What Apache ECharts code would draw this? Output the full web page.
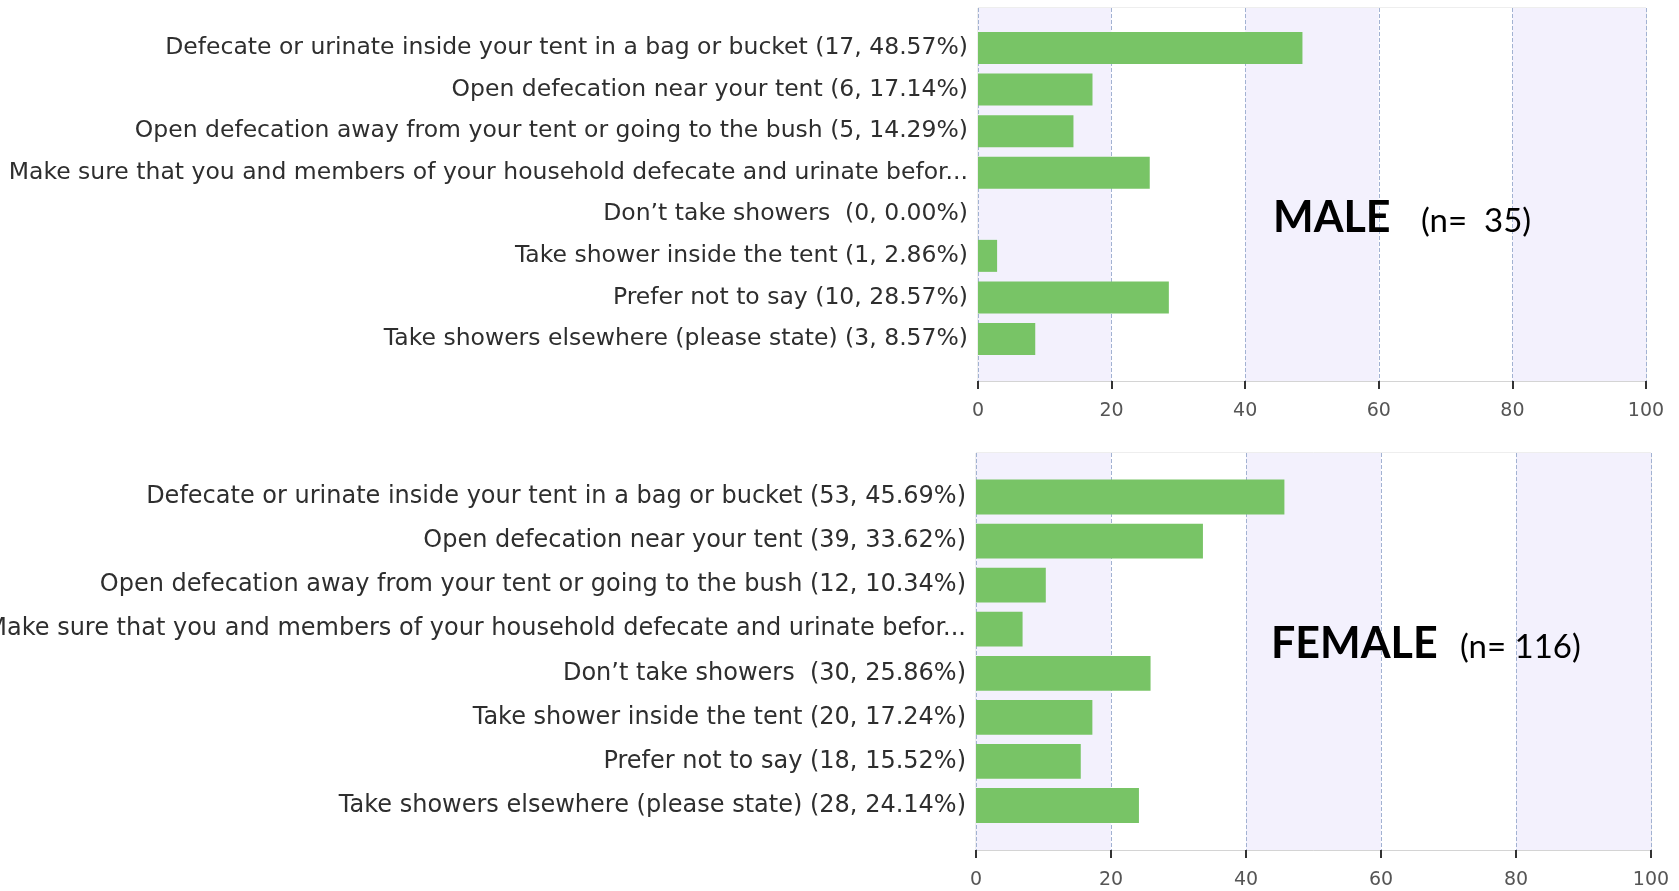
<!DOCTYPE html>
<html><head><meta charset="utf-8">
<script src="https://cdn.jsdelivr.net/npm/echarts@6/dist/echarts.min.js"></script>
<style>html,body{margin:0;padding:0;background:#fff}#c{width:1679px;height:891px}</style>
</head><body><div id="c"></div>
<script>
const maleLabels = [
  'Defecate or urinate inside your tent in a bag or bucket (17, 48.57%)',
  'Open defecation near your tent (6, 17.14%)',
  'Open defecation away from your tent or going to the bush (5, 14.29%)',
  'Make sure that you and members of your household defecate and urinate befor...',
  'Don\u2019t take showers  (0, 0.00%)',
  'Take shower inside the tent (1, 2.86%)',
  'Prefer not to say (10, 28.57%)',
  'Take showers elsewhere (please state) (3, 8.57%)'
];
const maleValues = [48.57, 17.14, 14.29, 25.71, 0, 2.86, 28.57, 8.57];

const femaleLabels = [
  'Defecate or urinate inside your tent in a bag or bucket (53, 45.69%)',
  'Open defecation near your tent (39, 33.62%)',
  'Open defecation away from your tent or going to the bush (12, 10.34%)',
  'Make sure that you and members of your household defecate and urinate befor...',
  'Don\u2019t take showers  (30, 25.86%)',
  'Take shower inside the tent (20, 17.24%)',
  'Prefer not to say (18, 15.52%)',
  'Take showers elsewhere (please state) (28, 24.14%)'
];
const femaleValues = [45.69, 33.62, 10.34, 6.90, 25.86, 17.24, 15.52, 24.14];

const xTickLabels = ['0', '20', '40', '60', '80', '100'];

const maleTitle = 'MALE';
const maleN = '(n=  35)';
const femaleTitle = 'FEMALE';
const femaleN = '(n= 116)';

const FONT = '"DejaVu Sans", Verdana, sans-serif';
const TITLE_FONT = 'Lato, "Open Sans", sans-serif';
const gridLineColor = '#a2b2d2';

function bgXAxis(gi) {
  return {
    gridIndex: gi, type: 'value', min: 0, max: 100, interval: 20,
    splitArea: { show: true, areaStyle: { color: ['#f3f1fd', '#ffffff'] } },
    splitLine: { show: true, lineStyle: { type: 'dashed', color: gridLineColor, width: 1 } },
    axisLine: { show: true, lineStyle: { color: '#d4d4d4', width: 1 } },
    axisTick: { show: true, length: 8, lineStyle: { color: '#333', width: 2 } },
    axisLabel: { fontSize: 19, color: '#555', margin: 21, fontFamily: FONT,
      formatter: (v) => xTickLabels[Math.round(v / 20)] }
  };
}
function hiddenXAxis(gi) {
  return { gridIndex: gi, type: 'value', min: 0, max: 100, show: false };
}
function catYAxis(gi, labels, fs) {
  return {
    gridIndex: gi, type: 'category', data: labels, inverse: true, boundaryGap: false,
    axisLine: { show: false }, axisTick: { show: false },
    axisLabel: { fontSize: fs, color: '#2e2e2e', margin: 10, fontFamily: FONT },
    splitLine: { show: true, lineStyle: { type: 'dashed', color: gridLineColor, width: 1 } }
  };
}

const chart = echarts.init(document.getElementById('c'));
chart.setOption({
  animation: false,
  grid: [
    { left: 978, right: 33, top: 8, bottom: 510, show: true, borderColor: '#dcdcdc', borderWidth: 1, outerBoundsMode: 'none', containLabel: false },
    { left: 978, right: 33, top: 48, bottom: 552, outerBoundsMode: 'none', containLabel: false },
    { left: 976, right: 28, top: 453, bottom: 41, show: true, borderColor: '#dcdcdc', borderWidth: 1, outerBoundsMode: 'none', containLabel: false },
    { left: 976, right: 28, top: 497, bottom: 85.5, outerBoundsMode: 'none', containLabel: false }
  ],
  xAxis: [bgXAxis(0), hiddenXAxis(1), bgXAxis(2), hiddenXAxis(3)],
  yAxis: [
    { gridIndex: 0, type: 'value', show: false },
    catYAxis(1, maleLabels, 23.5),
    { gridIndex: 2, type: 'value', show: false },
    catYAxis(3, femaleLabels, 24.0)
  ],
  series: [
    { type: 'bar', xAxisIndex: 1, yAxisIndex: 1, data: maleValues, barWidth: '77%', clip: false,
      itemStyle: { color: '#78c466' } },
    { type: 'bar', xAxisIndex: 3, yAxisIndex: 3, data: femaleValues, barWidth: '79%', clip: false,
      itemStyle: { color: '#78c466' } }
  ],
  graphic: [
    { type: 'text', x: 1273, y: 218, z: 100, style: { text: maleTitle, fontSize: 43, fontWeight: 'bold', fontFamily: TITLE_FONT, fill: '#000', verticalAlign: 'middle' } },
    { type: 'text', x: 1421, y: 221, z: 100, style: { text: maleN, fontSize: 33, fontFamily: TITLE_FONT, fill: '#000', verticalAlign: 'middle' } },
    { type: 'text', x: 1271, y: 644, z: 100, style: { text: femaleTitle, fontSize: 43, fontWeight: 'bold', fontFamily: TITLE_FONT, fill: '#000', verticalAlign: 'middle' } },
    { type: 'text', x: 1460, y: 647, z: 100, style: { text: femaleN, fontSize: 33, fontFamily: TITLE_FONT, fill: '#000', verticalAlign: 'middle' } }
  ]
});
</script>
</body></html>
